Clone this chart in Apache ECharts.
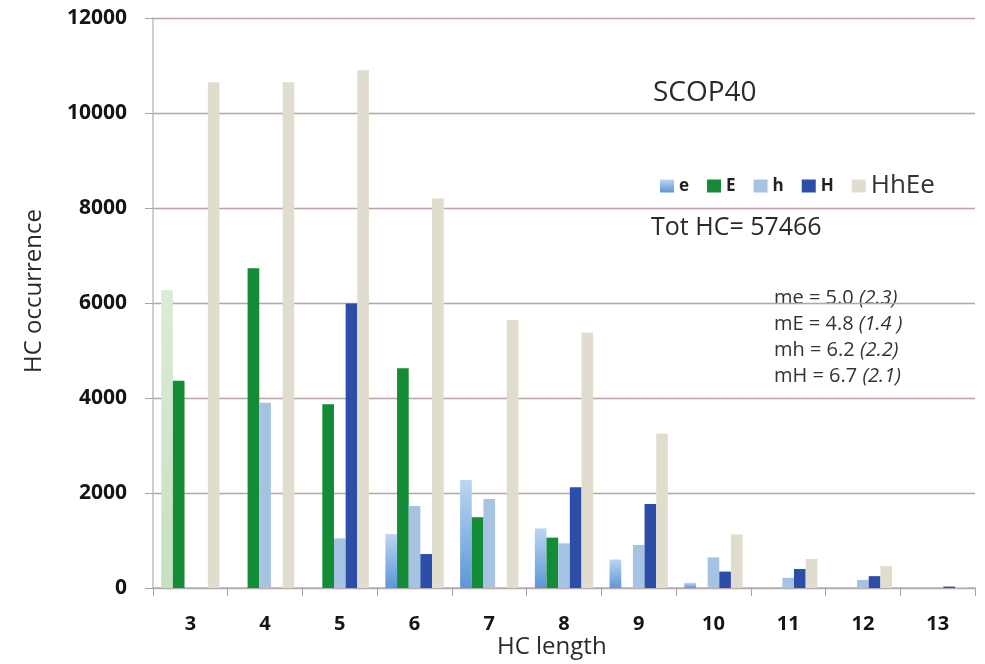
<!DOCTYPE html>
<html>
<head>
<meta charset="utf-8">
<script src="https://cdn.jsdelivr.net/npm/echarts@6/dist/echarts.min.js"></script>
<style>
html,body{margin:0;padding:0;background:#fff;}
#chart{width:985px;height:664px;}
</style>
</head>
<body>
<div id="chart"></div>
<script>
const categories = ['3','4','5','6','7','8','9','10','11','12','13'];
const eValues    = [6270, 0, 0, 1135, 2275, 1255, 600, 110, 0, 0, 0];
const EValues    = [4365, 6730, 3870, 4625, 1490, 1060, 0, 0, 0, 0, 0];
const hValues    = [0, 3900, 1045, 1725, 1875, 940, 905, 645, 215, 170, 0];
const HValues    = [0, 0, 5990, 715, 0, 2120, 1770, 345, 400, 250, 30];
const HhEeValues = [10650, 10650, 10900, 8200, 5640, 5380, 3255, 1130, 610, 460, 15];
const yTicks = [0, 2000, 4000, 6000, 8000, 10000, 12000];
const seriesNames = ['e', 'E', 'h', 'H', 'HhEe'];

const FONT = '"Open Sans", "Noto Sans", sans-serif';
const grad = (top, bottom) => new echarts.graphic.LinearGradient(0, 0, 0, 1, [
  {offset: 0, color: top}, {offset: 1, color: bottom}
]);
const colE = grad('#bcd6f1', '#5b98d6');
const colPaleGreen = grad('#dcebd7', '#c6e0c0');

const eData = eValues.map((v, i) => i === 0 ? {value: v, itemStyle: {color: colPaleGreen}} : v);

const chart = echarts.init(document.getElementById('chart'));
chart.setOption({
  animation: false,
  backgroundColor: '#ffffff',
  grid: {left: 153, right: 10, top: 18, bottom: 76, containLabel: false},
  legend: {
    left: 655, top: 168,
    itemWidth: 14, itemHeight: 13, itemGap: 18,
    icon: 'rect',
    textStyle: {fontFamily: FONT, color: '#222', fontSize: 17, fontWeight: 'bold'},
    data: [
      {name: 'e'}, {name: 'E'}, {name: 'h'}, {name: 'H'},
      {name: 'HhEe', textStyle: {fontSize: 26, fontWeight: 'normal', color: '#333'}}
    ]
  },
  xAxis: {
    type: 'category',
    data: categories,
    axisLine: {lineStyle: {color: '#b9aeae', width: 1.5}},
    axisTick: {show: true, length: 8, lineStyle: {color: '#a9a0a0'}},
    axisLabel: {fontFamily: FONT, fontSize: 20, fontWeight: 'bold', color: '#151515', margin: 26}
  },
  yAxis: {
    type: 'value',
    min: 0, max: 12000, interval: 2000,
    axisLine: {show: true, lineStyle: {color: '#c4bcbc', width: 1.5}},
    axisTick: {show: true, length: 8, lineStyle: {color: '#a9a0a0'}},
    axisLabel: {fontFamily: FONT, fontSize: 21, fontWeight: 'bold', color: '#151515', margin: 26,
      formatter: v => String(v)},
    splitLine: {show: true, lineStyle: {color: '#b8a4a4', width: 1.3}}
  },
  series: [
    {name: 'e', type: 'bar', data: eData, barGap: '0%', barCategoryGap: '22%', itemStyle: {color: colE}},
    {name: 'E', type: 'bar', data: EValues, itemStyle: {color: '#138b37'}},
    {name: 'h', type: 'bar', data: hValues, itemStyle: {color: '#a6c3e4'}},
    {name: 'H', type: 'bar', data: HValues, itemStyle: {color: '#2c4ea8'}},
    {name: 'HhEe', type: 'bar', data: HhEeValues, itemStyle: {color: '#e1ddce'}}
  ],
  graphic: [
    {type: 'text', left: 653, top: 79, style: {text: 'SCOP40', font: '28px ' + FONT, fill: '#2a2a2a'}},
    {type: 'text', left: 651, top: 215, style: {text: 'Tot HC= 57466', font: '25px ' + FONT, fill: '#2a2a2a'}},
    {type: 'text', left: 774, top: 285, style: {
      text: 'me = 5.0 {i|(2.3)}\nmE = 4.8 {i|(1.4 )}\nmh = 6.2 {i|(2.2)}\nmH = 6.7 {i|(2.1)}',
      font: '20px ' + FONT, fill: '#333', lineHeight: 26,
      rich: {i: {fontStyle: 'italic', fontSize: 20, fontFamily: FONT, fill: '#333', lineHeight: 26}}
    }},
    {type: 'text', left: 497, top: 635, style: {text: 'HC length', font: '24px ' + FONT, fill: '#2a2a2a'}},
    {type: 'text', x: 34, y: 291, rotation: Math.PI / 2, style: {text: 'HC occurrence', font: '24px ' + FONT, fill: '#2a2a2a', align: 'center', verticalAlign: 'middle'}}
  ]
});
</script>
</body>
</html>
